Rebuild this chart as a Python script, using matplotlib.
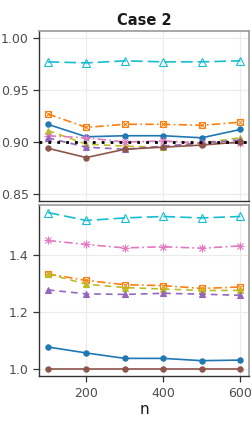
import matplotlib
matplotlib.use("Agg")
import matplotlib.pyplot as plt

n = [100, 200, 300, 400, 500, 600]

# coverage (top panel)
cov_blue = [0.917, 0.905, 0.906, 0.906, 0.904, 0.912]
cov_orange = [0.927, 0.914, 0.917, 0.917, 0.916, 0.919]
cov_cyan = [0.977, 0.976, 0.978, 0.977, 0.977, 0.978]
cov_olive = [0.911, 0.898, 0.896, 0.895, 0.899, 0.904]
cov_purple = [0.904, 0.895, 0.893, 0.896, 0.899, 0.902]
cov_pink = [0.906, 0.904, 0.900, 0.901, 0.899, 0.899]
cov_brown = [0.894, 0.885, 0.893, 0.895, 0.897, 0.900]
nominal = 0.90

# relative length (bottom panel)
len_blue = [1.077, 1.056, 1.037, 1.037, 1.029, 1.031]
len_orange = [1.333, 1.310, 1.295, 1.292, 1.282, 1.287]
len_cyan = [1.548, 1.520, 1.529, 1.534, 1.529, 1.534]
len_olive = [1.333, 1.297, 1.285, 1.280, 1.275, 1.275]
len_purple = [1.277, 1.263, 1.261, 1.265, 1.262, 1.258]
len_pink = [1.450, 1.436, 1.424, 1.428, 1.423, 1.431]
len_brown = [1.0, 1.0, 1.0, 1.0, 1.0, 1.0]

top_ticks = [0.85, 0.90, 0.95, 1.00]
bot_ticks = [1.0, 1.2, 1.4]
x_ticks = [200, 400, 600]

# each style: line + list of (marker, size, filled, mew)
styles = {
    "blue": dict(color="#1f77b4", ls="-", marks=[("o", 3.8, True, 0.8)]),
    "orange": dict(color="#ff7f0e", ls=(0, (5, 2, 1, 2)),
                   marks=[("s", 5, False, 0.8), ("x", 4.2, False, 0.7)]),
    "cyan": dict(color="#17becf", ls=(0, (7, 3)), marks=[("^", 5.5, False, 0.8)]),
    "olive": dict(color="#bcbd22", ls=(0, (4, 3)), marks=[("^", 5, True, 0.8)]),
    "purple": dict(color="#9467bd", ls=(0, (4, 3)), marks=[("^", 5, True, 0.8)]),
    "pink": dict(color="#e377c2", ls=(0, (5, 2, 1, 2)),
                 marks=[("+", 6, False, 0.8), ("x", 5, False, 0.8)]),
    "brown": dict(color="#8c564b", ls="-", marks=[("o", 3.8, True, 0.8)]),
}


def draw(ax, key, vals):
    s = styles[key]
    ax.plot(n, vals, color=s["color"], ls=s["ls"], lw=1.2, zorder=3)
    for m, ms, filled, mew in s["marks"]:
        ax.plot(n, vals, ls="none", marker=m, ms=ms,
                mfc=s["color"] if filled else "none", mec=s["color"],
                mew=mew, zorder=3)


fig = plt.figure(figsize=(2.52, 4.24), dpi=100)
ax1 = fig.add_axes([0.155, 0.526, 0.833, 0.401])
ax2 = fig.add_axes([0.155, 0.113, 0.833, 0.404])

top_series = [("cyan", cov_cyan), ("orange", cov_orange), ("blue", cov_blue),
              ("olive", cov_olive), ("pink", cov_pink), ("purple", cov_purple),
              ("brown", cov_brown)]
bot_series = [("cyan", len_cyan), ("pink", len_pink), ("orange", len_orange),
              ("olive", len_olive), ("purple", len_purple), ("blue", len_blue),
              ("brown", len_brown)]

for key, vals in top_series:
    draw(ax1, key, vals)
ax1.axhline(nominal, color="black", ls=(0, (1, 2.2)), lw=2.0, zorder=4)

for key, vals in bot_series:
    draw(ax2, key, vals)

ax1.set_ylim(0.8433, 1.0067)
ax2.set_ylim(0.975, 1.575)
for ax in (ax1, ax2):
    ax.set_xlim(77.5, 622.5)
    ax.set_xticks(x_ticks)
    ax.grid(True, color="#ebebeb", lw=0.8, zorder=0)
    ax.set_axisbelow(True)
    for side in ("top", "right"):
        ax.spines[side].set_color("#999999")
        ax.spines[side].set_linewidth(1.2)
    for side in ("left", "bottom"):
        ax.spines[side].set_color("#333333")
        ax.spines[side].set_linewidth(1.0)
    ax.tick_params(axis="both", colors="#333333", labelcolor="#4d4d4d",
                   labelsize=9, length=4, width=0.9)

ax1.set_yticks(top_ticks)
ax1.set_yticklabels([f"{t:.2f}" for t in top_ticks])
ax1.tick_params(axis="x", labelbottom=False, length=0)
ax2.set_yticks(bot_ticks)
ax2.set_yticklabels([f"{t:.1f}" for t in bot_ticks])
ax2.set_xticklabels([str(t) for t in x_ticks])

ax1.set_title("Case 2", fontsize=10.5, fontweight="bold", color="#1a1a1a", pad=4)
ax2.set_xlabel("n", fontsize=11, color="#1a1a1a", labelpad=2)

fig.savefig("out.png", dpi=100)
